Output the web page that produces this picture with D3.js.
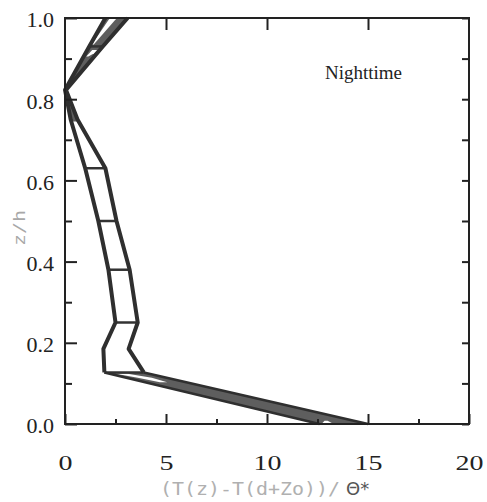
<!DOCTYPE html>
<html>
<head>
<meta charset="utf-8">
<script src="https://cdn.jsdelivr.net/npm/d3@7"></script>
<style>
  body { margin: 0; background: #fff; }
  svg { display: block; }
</style>
</head>
<body>
<svg id="chart" width="487" height="502"></svg>
<script>
// profile envelope (z/h levels, left and right edge of the band)
var zLevels   = [0.00, 0.127, 0.185, 0.25, 0.38, 0.50, 0.63, 0.75, 0.823, 0.93, 1.00];
var leftVals  = [12.6, 1.95,  1.9,   2.5,  2.15, 1.65, 1.0,  0.28, 0.0,   1.2,  2.0];
var rightVals = [15.0, 3.9,   3.15,  3.6,  3.2,  2.55, 2.0,  0.62, 0.05,  1.87, 3.1];

// levels where the two edges are joined by a cross bar
var rungLevels = [0.127, 0.25, 0.38, 0.50, 0.63, 0.93];

// z ranges where the band is shaded grey
var shadeRanges = [[0.0, 0.127], [0.745, 1.0]];

// small white slits left inside the shaded parts
var slitZ  = [[0.103, 0.114, 0.124], [0.0, 0.008], [0.935, 1.0], [0.905, 0.913, 0.921]];
var slitLo = [[4.7, 3.6, 2.5],       [12.7, 12.85], [1.33, 2.22], [1.05, 1.2, 1.35]];
var slitHi = [[5.06, 4.3, 3.1],      [13.3, 13.0],  [1.42, 2.57], [1.15, 1.45, 1.6]];

var xMajor = [0, 5, 10, 15, 20];
var xMinor = [2.5, 7.5, 12.5, 17.5];
var yMajor = [0, 0.2, 0.4, 0.6, 0.8, 1.0];
var yMinor = [0.1, 0.3, 0.5, 0.7, 0.9];

var margin = {left: 65, top: 18},
    width = 404,
    height = 406;

var serif = "'Liberation Serif', 'Times New Roman', serif";

var svg = d3.select("#chart");
var g = svg.append("g")
    .attr("transform", "translate(" + margin.left + "," + margin.top + ")");

var x = d3.scaleLinear().domain([0, 20]).range([0, width]);
var y = d3.scaleLinear().domain([0, 1]).range([height, 0]);

// piecewise linear edges of the band
var leftAt = d3.scaleLinear().domain(zLevels).range(leftVals);
var rightAt = d3.scaleLinear().domain(zLevels).range(rightVals);

var bandArea = d3.area()
    .y(function(d) { return y(d); })
    .x0(function(d) { return x(leftAt(d)); })
    .x1(function(d) { return x(rightAt(d)); });

// grey shading
shadeRanges.forEach(function(r) {
    var zs = [r[0]].concat(zLevels.filter(function(z) { return z > r[0] && z < r[1]; }), [r[1]]);
    g.append("path")
        .datum(zs)
        .attr("d", bandArea)
        .attr("fill", "#5e5e5e")
        .attr("stroke", "none");
});

// white slits
slitZ.forEach(function(zs, k) {
    var pts = zs.map(function(z, i) { return {z: z, lo: slitLo[k][i], hi: slitHi[k][i]}; });
    g.append("path")
        .datum(pts)
        .attr("d", d3.area()
            .y(function(d) { return y(d.z); })
            .x0(function(d) { return x(d.lo); })
            .x1(function(d) { return x(d.hi); }))
        .attr("fill", "#fff");
});

// cross bars
g.selectAll(".rung")
    .data(rungLevels)
    .enter()
    .append("line")
    .attr("class", "rung")
    .attr("x1", function(d) { return x(leftAt(d)); })
    .attr("x2", function(d) { return x(rightAt(d)); })
    .attr("y1", function(d) { return y(d); })
    .attr("y2", function(d) { return y(d); })
    .attr("stroke", "#333")
    .attr("stroke-width", 2.5);

// band edges: thin along the bottom wedge, heavier above it
var edge = d3.line()
    .x(function(d) { return x(d[0]); })
    .y(function(d) { return y(d[1]); });

[leftVals, rightVals].forEach(function(vals) {
    var pts = vals.map(function(v, i) { return [v, zLevels[i]]; });
    g.append("path")
        .datum(pts.slice(0, 2))
        .attr("d", edge)
        .attr("fill", "none")
        .attr("stroke", "#2f2f2f")
        .attr("stroke-width", 2.6);
    g.append("path")
        .datum(pts.slice(1))
        .attr("d", edge)
        .attr("fill", "none")
        .attr("stroke", "#2f2f2f")
        .attr("stroke-width", 4)
        .attr("stroke-linejoin", "round");
});

// axes with inward ticks
function styleAxis(sel) {
    sel.select(".domain").remove();
    sel.attr("font-family", serif);
    sel.selectAll(".tick line").attr("stroke", "#222").attr("stroke-width", 2);
    sel.selectAll("text")
        .attr("fill", "#222")
        .style("font-family", serif)
        .style("font-size", "22px");
}

g.append("g")
    .attr("transform", "translate(0," + height + ")")
    .call(d3.axisBottom(x).tickValues(xMajor).tickSize(-10).tickPadding(30).tickFormat(d3.format("d")))
    .call(styleAxis)
    .selectAll("text")
    .attr("textLength", function(d) { return String(d).length * 14; })
    .attr("lengthAdjust", "spacingAndGlyphs");

g.append("g")
    .attr("transform", "translate(0," + height + ")")
    .call(d3.axisBottom(x).tickValues(xMinor).tickSize(-5).tickFormat(""))
    .call(styleAxis);

g.append("g")
    .call(d3.axisTop(x).tickValues([5, 10, 15]).tickSize(-12).tickFormat(""))
    .call(styleAxis);

g.append("g")
    .call(d3.axisLeft(y).tickValues(yMajor).tickSize(-12).tickPadding(11).tickFormat(d3.format(".1f")))
    .call(styleAxis)
    .selectAll("text")
    .attr("dy", "0.4em");

g.append("g")
    .call(d3.axisLeft(y).tickValues(yMinor).tickSize(-7).tickFormat(""))
    .call(styleAxis);

g.append("g")
    .attr("transform", "translate(" + width + ",0)")
    .call(d3.axisRight(y).tickValues(yMajor.concat(yMinor)).tickSize(-7).tickFormat(""))
    .call(styleAxis);

// frame
g.append("rect")
    .attr("x", 0)
    .attr("y", 0)
    .attr("width", width)
    .attr("height", height)
    .attr("fill", "none")
    .attr("stroke", "#222")
    .attr("stroke-width", 2);

// labels
g.append("text")
    .attr("x", 260)
    .attr("y", 61)
    .attr("fill", "#222")
    .style("font-family", serif)
    .style("font-size", "19px")
    .text("Nighttime");

svg.append("text")
    .attr("transform", "translate(25,228) rotate(-90)")
    .attr("text-anchor", "middle")
    .attr("fill", "#a8a8a8")
    .style("font-family", "'DejaVu Sans Mono', monospace")
    .style("font-size", "16px")
    .attr("textLength", 36)
    .attr("lengthAdjust", "spacingAndGlyphs")
    .text("z/h");

svg.append("text")
    .attr("x", 160)
    .attr("y", 495)
    .attr("fill", "#b0b0b0")
    .style("font-family", "'DejaVu Sans Mono', monospace")
    .style("font-size", "17px")
    .attr("textLength", 180)
    .attr("lengthAdjust", "spacingAndGlyphs")
    .text("(T(z)-T(d+Zo))/");

svg.append("text")
    .attr("x", 346)
    .attr("y", 495)
    .attr("fill", "#555")
    .style("font-family", "'DejaVu Sans', sans-serif")
    .style("font-size", "18px")
    .text("Θ*");
</script>
</body>
</html>
